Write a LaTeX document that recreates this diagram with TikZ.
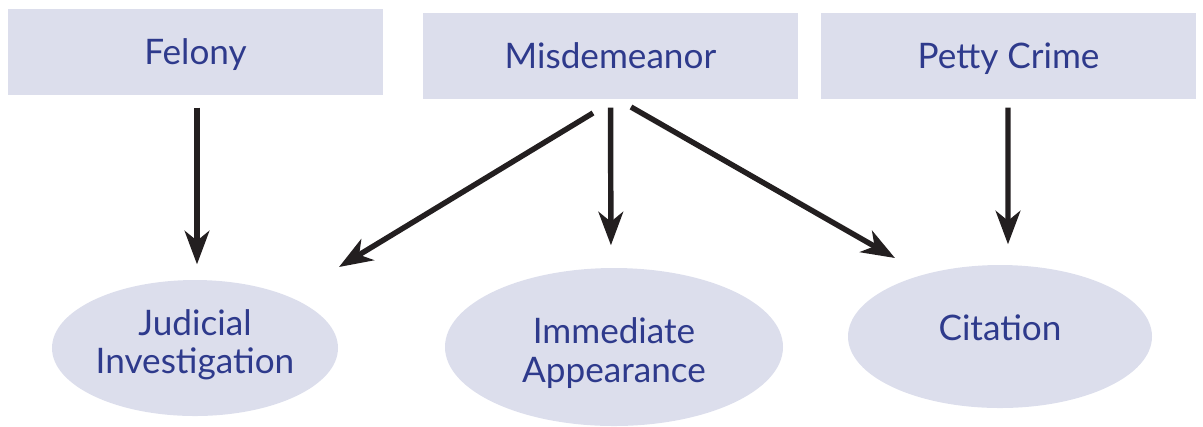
\documentclass[tikz,border=0pt]{standalone}
\usepackage{fontspec}
\setmainfont{Lato}
\usetikzlibrary{shapes.geometric, arrows.meta, positioning}
\definecolor{paleviolet}{HTML}{DCDEEC}
\definecolor{inkblue}{HTML}{2E3A8C}
\definecolor{arrowblack}{HTML}{231F20}

\begin{document}
\begin{tikzpicture}[
  offence/.style={rectangle, fill=paleviolet, minimum width=3.75cm, minimum height=0.86cm, inner sep=0pt, text=inkblue, text height=7.2pt, text depth=0pt, font=\fontsize{10}{11}\selectfont},
  outcome/.style={ellipse, fill=paleviolet, inner sep=0pt, text=inkblue, align=center, font=\fontsize{10}{11}\selectfont},
  flow/.style={-{Stealth[length=9.5pt, width=7pt, inset=2.8pt]}, line width=1.55pt, draw=arrowblack}
]
\useasboundingbox (0,0) rectangle (12.03,-4.26);
% Offence categories on top
\node[offence] (felony) at (1.955,-0.52) {Felony};
\node[offence] (misd) at (6.105,-0.56) {Misdemeanor};
\node[offence] (petty) at (10.085,-0.56) {Petty Crime};
% Procedures below
\node[outcome, minimum width=2.86cm, minimum height=1.36cm, text height=18.2pt, text depth=3.6pt] (judicial) at (1.95,-3.48) {Judicial\\Investigation};
\node[outcome, minimum width=3.38cm, minimum height=1.58cm, text height=20pt, text depth=0pt] (immediate) at (6.14,-3.47) {Immediate\\Appearance};
\node[outcome, minimum width=3.04cm, minimum height=1.43cm, text height=7.2pt, text depth=5.2pt] (citation) at (10.00,-3.365) {Citation};
% Free ends of the slanted arrows
\coordinate (misdleft) at (5.93,-1.13);
\coordinate (judtip) at (3.39,-2.67);
\coordinate (misdright) at (6.31,-1.07);
\coordinate (cittip) at (8.95,-2.58);
% Arrows
\draw[flow, shorten <=0.12cm, shorten >=0.15cm] ([xshift=0.015cm]felony.south) -- ([xshift=0.02cm]judicial.north);
\draw[flow] (misdleft) -- (judtip);
\draw[flow, shorten <=0.08cm, shorten >=0.22cm] (misd.south) -- ([xshift=-0.03cm]immediate.north);
\draw[flow] (misdright) -- (cittip);
\draw[flow, shorten <=0.08cm, shorten >=0.2cm] ([xshift=-0.005cm]petty.south) -- ([xshift=0.08cm]citation.north);
\end{tikzpicture}
\end{document}
